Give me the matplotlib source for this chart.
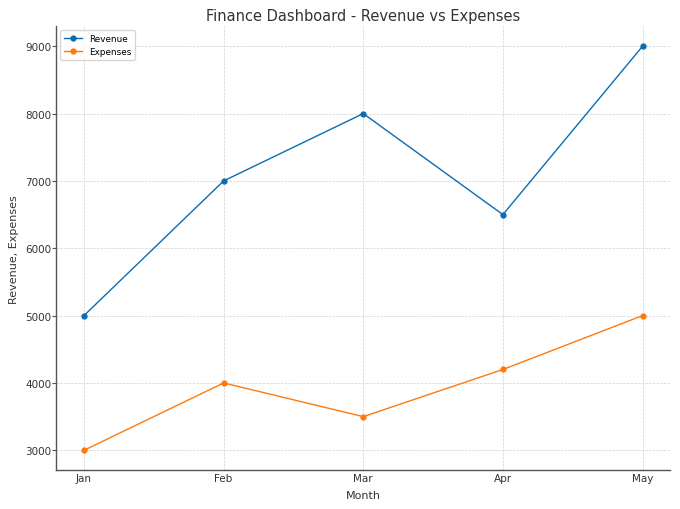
import matplotlib
matplotlib.use("Agg")
import matplotlib.pyplot as plt

months = ["Jan", "Feb", "Mar", "Apr", "May"]
revenue = [5000, 7000, 8000, 6500, 9000]
expenses = [3000, 4000, 3500, 4200, 5000]

fig, ax = plt.subplots(figsize=(6.8, 5.1), dpi=100)
ax.plot(months, revenue, marker="o", markersize=3.5, linewidth=1.0, color="#0a6db4", label="Revenue")
ax.plot(months, expenses, marker="o", markersize=3.5, linewidth=1.0, color="#ff7a0e", label="Expenses")
ax.set_title("Finance Dashboard - Revenue vs Expenses", fontsize=10.5, color="#333333", pad=4)
ax.set_xlabel("Month", fontsize=8, color="#333333", labelpad=4.5)
ax.set_ylabel("Revenue, Expenses", fontsize=8, color="#333333", labelpad=4)
ax.tick_params(axis="x", labelsize=7.5, colors="#333333", length=0, pad=2)
ax.tick_params(axis="y", labelsize=7.5, colors="#333333", length=3, pad=0.5, color="#555555")
ax.grid(True, linestyle="--", linewidth=0.5, color="#d0d0d0")
for s in ["top", "right"]:
    ax.spines[s].set_visible(False)
for s in ["left", "bottom"]:
    ax.spines[s].set_color("#555555")
    ax.spines[s].set_linewidth(1.0)
ax.legend(loc="upper left", fontsize=6.4)
fig.subplots_adjust(left=0.0824, right=0.986, top=0.947, bottom=0.0755)
fig.savefig("out.png", dpi=100)
